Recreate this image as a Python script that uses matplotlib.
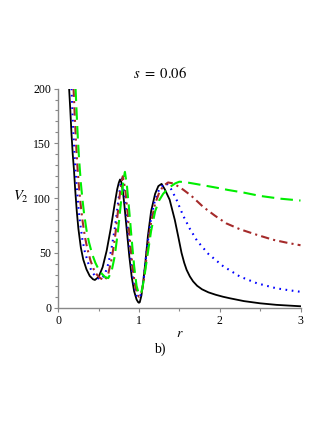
import numpy as np
import matplotlib.pyplot as plt
from matplotlib.ticker import MultipleLocator

plt.rcParams['font.family'] = ['Liberation Serif', 'DejaVu Serif']
plt.rcParams['mathtext.fontset'] = 'stix'

# values (r, V_2)
r_black = [0.135, 0.15, 0.165, 0.18, 0.195, 0.21, 0.23, 0.25, 0.28, 0.31, 0.35, 0.39, 0.43, 0.454,
           0.50, 0.55, 0.60, 0.65, 0.70, 0.73, 0.75, 0.765, 0.78, 0.80, 0.82, 0.85,
           0.88, 0.91, 0.94, 0.97, 0.99, 1.0, 1.01, 1.03, 1.05, 1.08, 1.11, 1.15, 1.2, 1.24,
           1.28, 1.32, 1.38, 1.444, 1.486, 1.527, 1.56, 1.59, 1.63, 1.67, 1.72, 1.78, 1.86, 1.95,
           2.04, 2.125, 2.3, 2.5, 2.7, 3.0]
v_black = [200, 180, 158, 140, 126, 108, 88, 72, 55, 44, 35, 29, 26, 25.3,
           28, 37, 52, 72, 95, 108, 114, 117, 115, 107, 93, 70,
           47, 28, 15, 7.5, 5, 4.5, 5, 11, 22, 42, 65, 88, 104, 111,
           113, 108, 98.5, 80, 65, 50, 41, 34.5, 28.5, 24, 20, 16.8, 14, 11.8,
           10, 8.6, 6, 4, 2.6, 1.3]

r_blue = [0.165, 0.18, 0.195, 0.21, 0.23, 0.25, 0.27, 0.30, 0.33, 0.37, 0.41, 0.45, 0.49, 0.537,
          0.58, 0.62, 0.66, 0.70, 0.74, 0.77, 0.79, 0.82, 0.85, 0.88, 0.91, 0.94, 0.97, 1.0,
          1.03, 1.06, 1.1, 1.15, 1.2, 1.25, 1.3, 1.34, 1.40, 1.465, 1.547, 1.63, 1.72, 1.86,
          2.04, 2.25, 2.46, 2.7, 2.85, 3.0]
v_blue = [200, 172, 150, 130, 110, 92, 78, 62, 51, 41, 34, 29.5, 27, 26,
          31, 40, 54, 72, 95, 112, 118, 105, 82, 58, 36, 20, 11, 9,
          13, 27, 55, 82, 99, 108, 112, 113.5, 108, 98.5, 84, 72, 61, 49,
          38, 28.4, 22.3, 17.7, 16, 14.5]

r_brown = [0.19, 0.205, 0.22, 0.235, 0.255, 0.275, 0.30, 0.33, 0.36, 0.40, 0.44, 0.48, 0.52, 0.578,
           0.62, 0.66, 0.70, 0.74, 0.77, 0.80, 0.83, 0.86, 0.89, 0.92, 0.95, 0.98, 1.0,
           1.03, 1.06, 1.1, 1.15, 1.2, 1.25, 1.3, 1.36, 1.42, 1.48, 1.55, 1.65, 1.795, 1.94,
           2.08, 2.25, 2.46, 2.66, 2.85, 3.0]
v_brown = [200, 175, 152, 132, 112, 96, 80, 65, 54, 43, 35, 30, 27, 25,
           31, 44, 62, 88, 108, 120, 108, 86, 60, 38, 21, 12, 10,
           13, 25, 50, 78, 95, 105, 111, 114.3, 113.5, 111, 107.6, 102, 92, 84,
           77, 71.6, 66.5, 62, 59, 57]

r_green = [0.215, 0.23, 0.245, 0.26, 0.28, 0.30, 0.32, 0.35, 0.38, 0.42, 0.46, 0.50, 0.54, 0.58,
           0.62, 0.66, 0.70, 0.74, 0.78, 0.81, 0.826, 0.85, 0.88, 0.91, 0.94, 0.97, 1.0,
           1.03, 1.06, 1.1, 1.15, 1.2, 1.25, 1.3, 1.35, 1.4, 1.45, 1.5, 1.58, 1.7, 1.85, 2.0,
           2.1, 2.3, 2.5, 2.75, 3.0]
v_green = [200, 175, 152, 134, 114, 99, 86, 71, 60, 49, 41, 35, 31, 28,
           27, 33, 47, 70, 98, 118, 124, 112, 88, 62, 38, 20, 12,
           14, 25, 45, 70, 88, 98, 104, 108, 111, 113.5, 115, 114.5, 113, 111, 109,
           107.5, 105, 102, 99.5, 97.8]

fig = plt.figure(figsize=(3.27, 4.23), dpi=100)
ax = fig.add_axes([0.178, 0.2726, 0.741, 0.518])

ax.plot(r_black, v_black, color='black', lw=1.3)
ax.plot(r_blue, v_blue, color='#0000ff', lw=1.5, linestyle=(0, (0.8, 2.2)))
ax.plot(r_brown, v_brown, color='#a52a2a', lw=1.5, linestyle=(0, (4, 2, 1, 2)))
ax.plot(r_green, v_green, color='#00ee00', lw=1.5, linestyle=(0, (6, 3)))

ax.set_xlim(0, 3)
ax.set_ylim(0, 200)
ax.spines['top'].set_visible(False)
ax.spines['right'].set_visible(False)
for s in ['left', 'bottom']:
    ax.spines[s].set_color('#888888')
    ax.spines[s].set_linewidth(1.0)

ax.xaxis.set_major_locator(MultipleLocator(1))
ax.xaxis.set_minor_locator(MultipleLocator(0.5))
ax.yaxis.set_major_locator(MultipleLocator(50))
ax.yaxis.set_minor_locator(MultipleLocator(10))
ax.tick_params(which='both', colors='#888888', labelcolor='black', labelsize=8.5, width=0.8)
ax.tick_params(which='major', length=3, pad=2)
ax.tick_params(which='minor', length=2)

fig.text(160 / 327, 1 - 73 / 423, r'$s\ =\ 0.06$', fontsize=10.5, ha='center', va='center')
ax.set_xlabel(r'$r$', fontsize=10, labelpad=0)
ax.set_ylabel(r'$V_2$', fontsize=10.5, rotation=0)
ax.yaxis.set_label_coords(-0.155, 0.47)
fig.text(160 / 327, 1 - 349 / 423, 'b)', fontsize=10, ha='center', va='center')

fig.savefig('out.png', dpi=100)
